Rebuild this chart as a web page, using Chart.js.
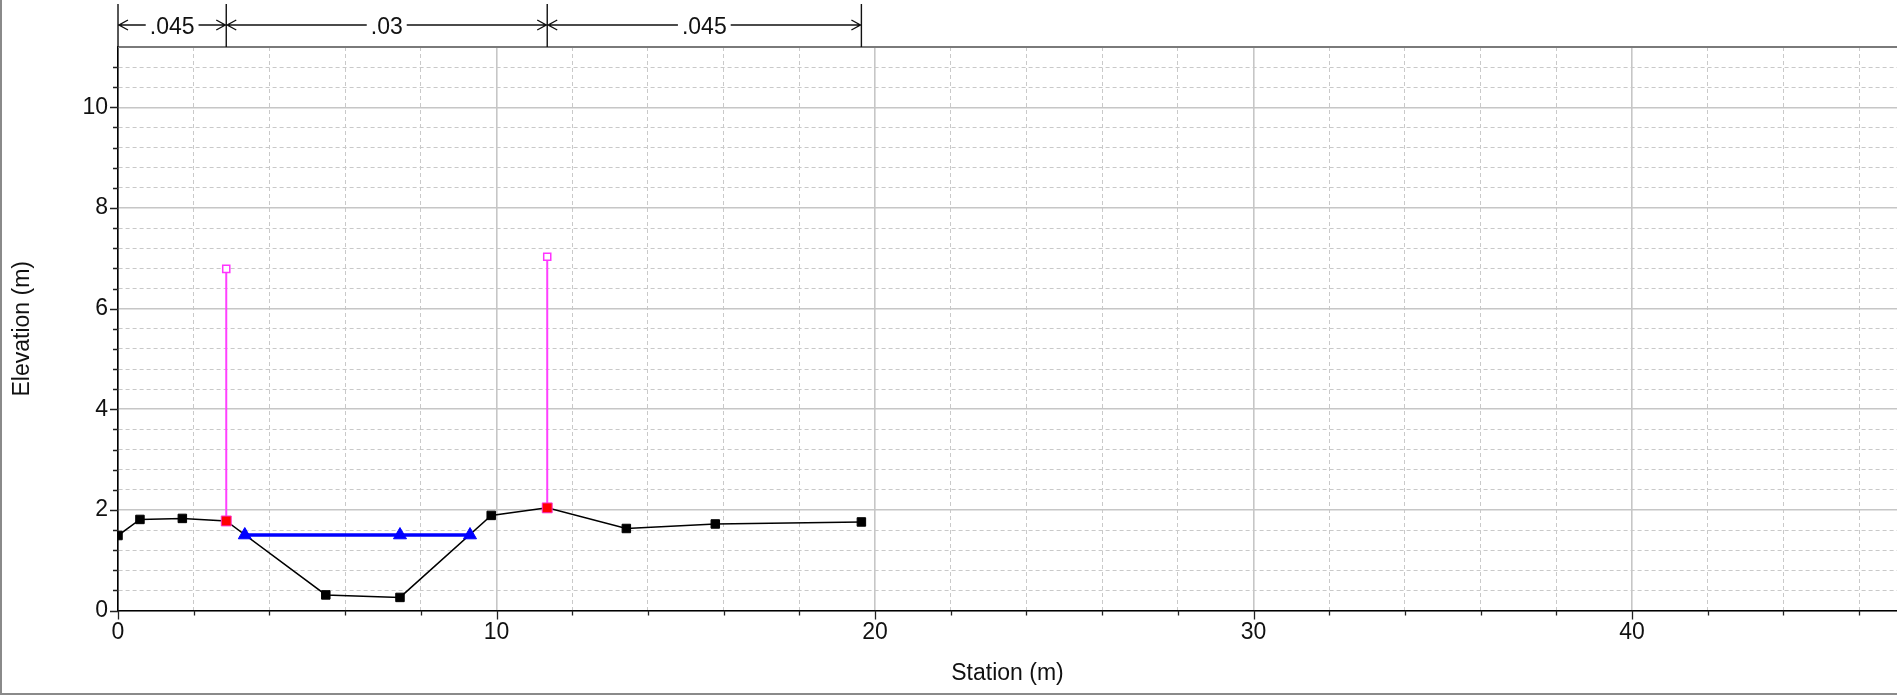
<!DOCTYPE html>
<html>
<head>
<meta charset="utf-8">
<title>Cross section</title>
<script src="https://cdn.jsdelivr.net/npm/chart.js@4.4.1/dist/chart.umd.min.js"></script>
<style>
  html, body { margin: 0; padding: 0; background: #fff; overflow: hidden; }
  #wrap { position: relative; width: 1897px; height: 695px; }
  canvas { display: block; }
</style>
</head>
<body>
<div id="wrap"><canvas id="xs" width="1897" height="695"></canvas></div>
<script>
// ground profile
const groundStation = [0, 0.58, 1.70, 2.86, 5.49, 7.45, 9.86, 11.34, 13.43, 15.78, 19.64];
const groundElev = [1.49, 1.81, 1.83, 1.78, 0.31, 0.26, 1.89, 2.04, 1.63, 1.72, 1.76];

// bank stations + levee markers
const bankStation = [2.86, 11.34];
const bankElev = [1.78, 2.04];
const leveeTopElev = [6.79, 7.03];

// water surface
const wsStation = [3.35, 7.45, 9.30];
const wsElev = [1.50, 1.50, 1.50];

// manning's n zones
const nBreaks = [0, 2.86, 11.34, 19.64];
const nValues = [".045", ".03", ".045"];

const xTickLabels = ["0", "10", "20", "30", "40"];
const yTickLabels = ["0", "2", "4", "6", "8", "10"];

const FONT = "'Liberation Sans', Arial, sans-serif";
const FONT_SIZE = 23;

function isMultiple(v, step) {
  const q = v / step;
  return Math.abs(q - Math.round(q)) < 1e-6;
}

function labelFor(value, list) {
  const s = String(Math.round(value * 1000) / 1000);
  return list.includes(s) ? s : "";
}

const frameAndTicks = {
  id: "frameAndTicks",
  afterDraw(chart) {
    const { ctx, chartArea, scales } = chart;
    ctx.save();

    // tick marks
    ctx.strokeStyle = "#222";
    ctx.lineWidth = 1.3;
    ctx.beginPath();
    scales.x.ticks.forEach((t) => {
      const px = Math.round(scales.x.getPixelForValue(t.value)) + 0.5;
      const len = isMultiple(t.value, 10) ? 9 : 5;
      ctx.moveTo(px, chartArea.bottom);
      ctx.lineTo(px, chartArea.bottom + len);
    });
    scales.y.ticks.forEach((t) => {
      if (t.value > 11.19) return;
      const py = Math.round(scales.y.getPixelForValue(t.value)) + 0.5;
      const len = isMultiple(t.value, 2) ? 8 : 5;
      ctx.moveTo(chartArea.left, py);
      ctx.lineTo(chartArea.left - len, py);
    });
    ctx.stroke();

    // top border of plot
    ctx.strokeStyle = "#7a7a7a";
    ctx.lineWidth = 2;
    ctx.beginPath();
    ctx.moveTo(chartArea.left, chartArea.top);
    ctx.lineTo(chart.width, chartArea.top);
    ctx.stroke();

    // outer frame (left + bottom)
    ctx.strokeStyle = "#8a8a8a";
    ctx.lineWidth = 2;
    ctx.beginPath();
    ctx.moveTo(1, 0);
    ctx.lineTo(1, 694);
    ctx.lineTo(chart.width, 694);
    ctx.stroke();

    ctx.restore();
  },
};

const manningBar = {
  id: "manningBar",
  afterDraw(chart) {
    const { ctx, chartArea, scales } = chart;
    const yLine = 25;
    ctx.save();
    ctx.strokeStyle = "#111";
    ctx.fillStyle = "#111";
    ctx.lineWidth = 1.4;
    ctx.font = FONT_SIZE + "px " + FONT;
    ctx.textAlign = "center";
    ctx.textBaseline = "alphabetic";

    const px = nBreaks.map((s) => scales.x.getPixelForValue(s));

    ctx.beginPath();
    px.forEach((x) => {
      ctx.moveTo(x, 4);
      ctx.lineTo(x, chartArea.top);
    });
    ctx.stroke();

    nValues.forEach((txt, i) => {
      const xl = px[i];
      const xr = px[i + 1];
      const mid = (xl + xr) / 2;
      const w = ctx.measureText(txt).width;
      ctx.beginPath();
      ctx.moveTo(xl, yLine);
      ctx.lineTo(mid - w / 2 - 4, yLine);
      ctx.moveTo(mid + w / 2 + 4, yLine);
      ctx.lineTo(xr, yLine);
      // open arrow heads
      ctx.moveTo(xl + 10, yLine - 5);
      ctx.lineTo(xl + 1, yLine);
      ctx.lineTo(xl + 10, yLine + 5);
      ctx.moveTo(xr - 10, yLine - 5);
      ctx.lineTo(xr - 1, yLine);
      ctx.lineTo(xr - 10, yLine + 5);
      ctx.stroke();
      ctx.fillText(txt, mid, yLine + 8.5);
    });

    ctx.restore();
  },
};

const toPoints = (xs, ys) => xs.map((x, i) => ({ x, y: ys[i] }));

const leveeLines = bankStation.flatMap((s, i) => [
  { x: s, y: bankElev[i] },
  { x: s, y: leveeTopElev[i] },
  { x: s, y: null },
]);

Chart.defaults.font.family = FONT;
Chart.defaults.color = "#111";

new Chart(document.getElementById("xs"), {
  type: "scatter",
  data: {
    datasets: [
      {
        label: "Bank Sta",
        data: toPoints(bankStation, bankElev),
        pointStyle: "rect",
        pointRadius: 7,
        backgroundColor: "#ff0000",
        borderColor: "#ff33cc",
        borderWidth: 1,
        showLine: false,
        order: 0,
      },
      {
        label: "Levee top",
        data: toPoints(bankStation, leveeTopElev),
        pointStyle: "rect",
        pointRadius: 5,
        backgroundColor: "#ffffff",
        borderColor: "#ff33ff",
        borderWidth: 1.5,
        showLine: false,
        order: 1,
      },
      {
        label: "Levee",
        data: leveeLines,
        showLine: true,
        spanGaps: false,
        borderColor: "#ff40ff",
        borderWidth: 2,
        pointRadius: 0,
        order: 2,
      },
      {
        label: "WS",
        data: toPoints(wsStation, wsElev),
        showLine: true,
        borderColor: "#0000ff",
        borderWidth: 3.5,
        pointStyle: "triangle",
        pointRadius: 7.5,
        backgroundColor: "#0000ff",
        pointBorderColor: "#0000ff",
        pointBorderWidth: 1,
        order: 3,
      },
      {
        label: "Ground",
        data: toPoints(groundStation, groundElev),
        showLine: true,
        borderColor: "#000000",
        borderWidth: 1.5,
        pointStyle: "rect",
        pointRadius: 6,
        backgroundColor: "#000000",
        pointBorderColor: "#000000",
        pointBorderWidth: 1,
        order: 4,
      },
    ],
  },
  options: {
    responsive: false,
    animation: false,
    events: [],
    devicePixelRatio: 1,
    layout: { autoPadding: false, padding: { top: 47, left: 0, right: 0, bottom: 0 } },
    plugins: { legend: { display: false }, tooltip: { enabled: false } },
    scales: {
      x: {
        type: "linear",
        position: "bottom",
        min: 0,
        max: 47,
        afterFit: (scale) => {
          scale.height = 84.5;
          scale.paddingLeft = 0;
          scale.paddingRight = 0;
        },
        ticks: {
          stepSize: 2,
          includeBounds: false,
          autoSkip: false,
          maxRotation: 0,
          padding: 8,
          font: { size: FONT_SIZE },
          color: "#111",
          callback: (v) => labelFor(v, xTickLabels),
        },
        grid: {
          drawTicks: false,
          color: (c) => (c.tick && isMultiple(c.tick.value, 10) ? "#c6c6c6" : "#c9c9c9"),
          lineWidth: (c) => (c.tick && isMultiple(c.tick.value, 10) ? 1.6 : 1),
        },
        border: {
          color: "#000",
          width: 1.6,
          dash: (c) => (c.tick && !isMultiple(c.tick.value, 10) ? [4, 3] : []),
        },
        title: {
          display: true,
          text: "Station (m)",
          font: { size: FONT_SIZE },
          color: "#111",
          padding: { top: 0, bottom: 7.2 },
        },
      },
      y: {
        type: "linear",
        min: 0,
        max: 11.2,
        afterFit: (scale) => {
          scale.width = 118;
          scale.paddingTop = 0;
          scale.paddingBottom = 0;
        },
        ticks: {
          stepSize: 0.4,
          autoSkip: false,
          padding: 10,
          font: { size: FONT_SIZE },
          color: "#111",
          callback: (v) => labelFor(v, yTickLabels),
        },
        grid: {
          drawTicks: false,
          color: (c) => (c.tick && isMultiple(c.tick.value, 2) ? "#c6c6c6" : "#c9c9c9"),
          lineWidth: (c) => (c.tick && isMultiple(c.tick.value, 2) ? 1.6 : 1),
        },
        border: {
          color: "#000",
          width: 1.6,
          dash: (c) => (c.tick && !isMultiple(c.tick.value, 2) ? [4, 3] : []),
        },
        title: {
          display: true,
          text: "Elevation (m)",
          font: { size: FONT_SIZE },
          color: "#111",
          padding: { top: 9, bottom: 0 },
        },
      },
    },
  },
  plugins: [frameAndTicks, manningBar],
});
</script>
</body>
</html>
